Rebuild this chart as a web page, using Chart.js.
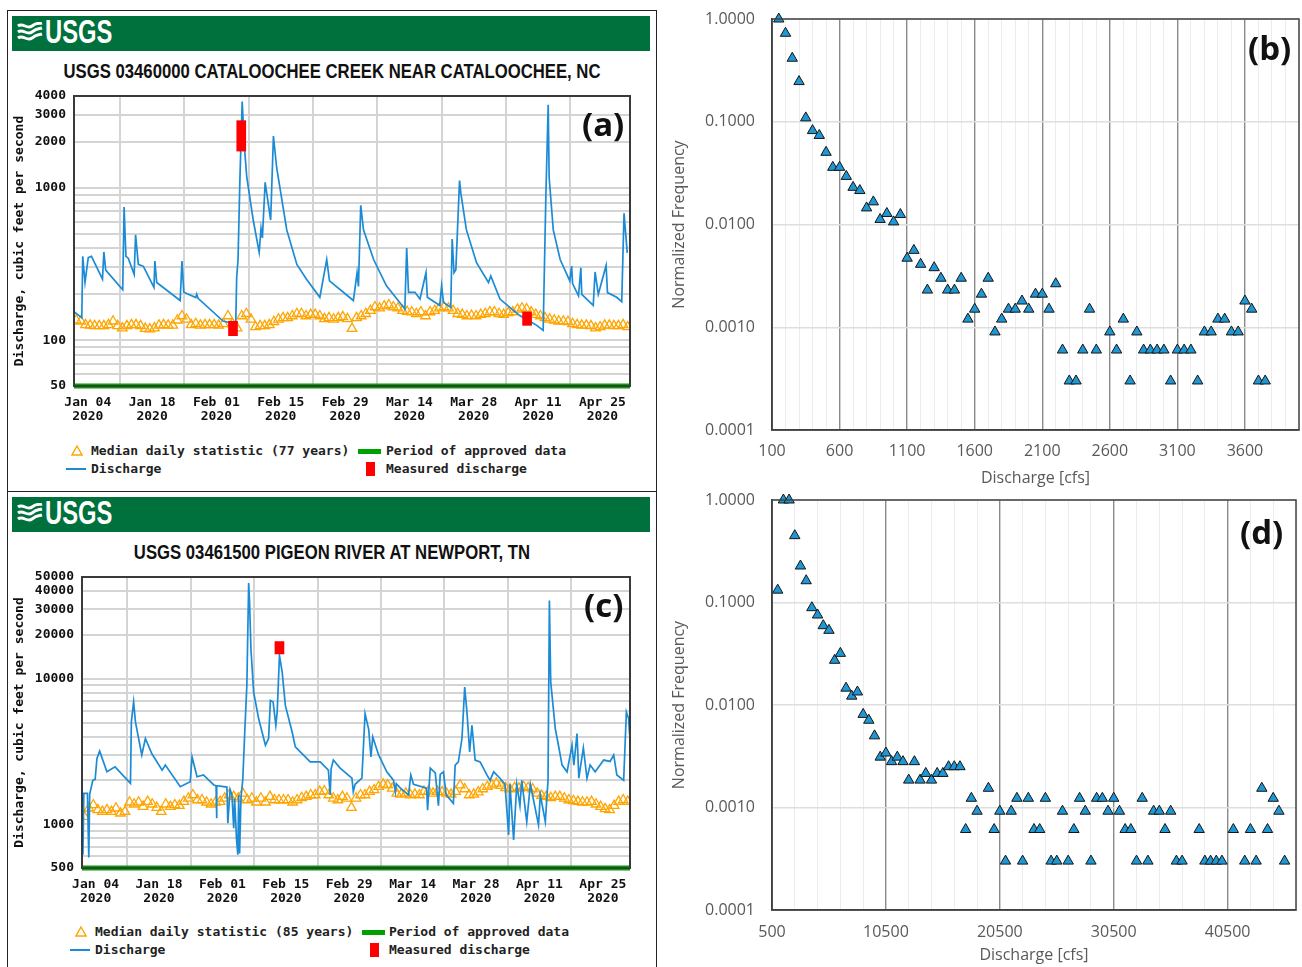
<!DOCTYPE html>
<html>
<head>
<meta charset="utf-8">
<script src="https://cdn.jsdelivr.net/npm/chart.js@4.4.1/dist/chart.umd.min.js"></script>
<style>
body{margin:0;background:#fff;}
#page{position:relative;width:1302px;height:967px;overflow:hidden;background:#fff;}
.frame{position:absolute;box-sizing:border-box;border:1px solid #222;}
.hdr{position:absolute;left:12px;width:638px;height:35px;background:#00703c;}
.usgs{position:absolute;left:33px;top:-3px;font:bold 33px "Liberation Sans Narrow","Liberation Sans",sans-serif;color:#fff;transform:scaleX(.72);transform-origin:left;}
.logo{position:absolute;left:5px;top:6px;}
.title{position:absolute;left:8px;width:648px;text-align:center;font:bold 20px "Liberation Sans Narrow","Liberation Sans",sans-serif;color:#111;line-height:24px;transform:scaleX(.835);transform-origin:center;}
.leg{position:absolute;font:bold 13px "DejaVu Sans Mono",monospace;color:#222;white-space:pre;line-height:16px;}
.sw{position:absolute;}
canvas{position:absolute;}
.tag{position:absolute;font:bold 33px "Open Sans",sans-serif;color:#111;line-height:40px;}
</style>
</head>
<body>
<div id="page">
  <div class="frame" style="left:7px;top:10px;width:650px;height:482px;"></div>
  <div class="frame" style="left:7px;top:491px;width:650px;height:490px;"></div>

  <div class="hdr" style="top:16px;">
    <svg class="logo" width="26" height="22" viewBox="0 0 26 22"><path d="M1 4 C6 0 10 8 15 4 S22 2 25 1 M1 10 C6 6 10 14 15 10 S22 7 25 6 M1 16 C6 12 10 20 15 16 S22 13 25 12" stroke="#fff" stroke-width="3" fill="none"/></svg>
    <div class="usgs">USGS</div>
  </div>
  <div class="title" style="top:59px;">USGS 03460000 CATALOOCHEE CREEK NEAR CATALOOCHEE, NC</div>
  <canvas id="chartA" width="640" height="345" style="left:8px;top:85px;"></canvas>
  <div class="tag" style="left:582px;top:104px;">(a)</div>

  <svg class="sw" style="left:71px;top:445px;" width="12" height="11"><polygon points="6,1 11,10 1,10" fill="none" stroke="#ffa500" stroke-width="1.4"/></svg>
  <div class="leg" style="left:91px;top:443px;">Median daily statistic (77 years)</div>
  <div class="sw" style="left:358px;top:449px;width:23px;height:5px;background:#00a000;"></div>
  <div class="leg" style="left:386px;top:443px;">Period of approved data</div>
  <div class="sw" style="left:66px;top:468px;width:20px;height:2px;background:#1b8bd6;"></div>
  <div class="leg" style="left:91px;top:461px;">Discharge</div>
  <div class="sw" style="left:366px;top:462px;width:9px;height:14px;background:#ff0000;"></div>
  <div class="leg" style="left:386px;top:461px;">Measured discharge</div>

  <div class="hdr" style="top:497px;">
    <svg class="logo" width="26" height="22" viewBox="0 0 26 22"><path d="M1 4 C6 0 10 8 15 4 S22 2 25 1 M1 10 C6 6 10 14 15 10 S22 7 25 6 M1 16 C6 12 10 20 15 16 S22 13 25 12" stroke="#fff" stroke-width="3" fill="none"/></svg>
    <div class="usgs">USGS</div>
  </div>
  <div class="title" style="top:540px;">USGS 03461500 PIGEON RIVER AT NEWPORT, TN</div>
  <canvas id="chartC" width="640" height="345" style="left:8px;top:566px;"></canvas>
  <div class="tag" style="left:584px;top:585px;">(c)</div>

  <svg class="sw" style="left:75px;top:926px;" width="12" height="11"><polygon points="6,1 11,10 1,10" fill="none" stroke="#ffa500" stroke-width="1.4"/></svg>
  <div class="leg" style="left:95px;top:924px;">Median daily statistic (85 years)</div>
  <div class="sw" style="left:362px;top:930px;width:23px;height:5px;background:#00a000;"></div>
  <div class="leg" style="left:389px;top:924px;">Period of approved data</div>
  <div class="sw" style="left:70px;top:949px;width:20px;height:2px;background:#1b8bd6;"></div>
  <div class="leg" style="left:95px;top:942px;">Discharge</div>
  <div class="sw" style="left:370px;top:943px;width:9px;height:14px;background:#ff0000;"></div>
  <div class="leg" style="left:389px;top:942px;">Measured discharge</div>

  <canvas id="chartB" width="642" height="490" style="left:660px;top:0px;"></canvas>
  <div class="tag" style="left:1248px;top:28px;">(b)</div>
  <canvas id="chartD" width="642" height="487" style="left:660px;top:480px;"></canvas>
  <div class="tag" style="left:1240px;top:512px;">(d)</div>
</div>

<script>
// x axis of the hydrographs is days since Jan 01 2020
var tickDays = [3, 17, 31, 45, 59, 73, 87, 101, 115];
var tickNames = ['Jan 04', 'Jan 18', 'Feb 01', 'Feb 15', 'Feb 29', 'Mar 14', 'Mar 28', 'Apr 11', 'Apr 25'];

// (a) Cataloochee Creek
var aGrid = [50, 60, 70, 80, 90, 100, 200, 300, 400, 500, 600, 700, 800, 900, 1000, 2000, 3000, 4000];
var aLabels = [50, 100, 1000, 2000, 3000, 4000];
var aFlow = [[0,154],[1.7,140],[1.9,355],[2.4,239],[3.1,348],[3.8,355],[6.2,251],[6.5,379],[6.9,288],
  [10.6,214],[10.9,748],[11.3,355],[11.8,345],[13.1,270],[13.4,491],[14.0,314],[15.1,305],[17.4,222],
  [17.6,330],[18.0,239],[23.1,182],[23.5,330],[23.9,206],[26.5,190],[26.7,200],[27,188],[32.5,133],
  [35.2,128],[35.4,257],[35.7,338],[36.1,1114],[36.6,3673],[37.1,1832],[37.6,1172],[39.0,614],[40.3,377],
  [40.7,542],[41.0,468],[41.6,1086],[42.8,614],[43.4,2183],[44.1,1358],[46.3,529],[48.5,314],[50.6,251],
  [53.5,191],[55.0,338],[55.6,245],[60.8,182],[61.6,277],[61.9,225],[62.4,767],[63.0,529],[65.2,338],
  [68.0,227],[72.0,160],[72.4,402],[72.8,206],[74.2,206],[75.3,186],[76.6,277],[76.9,191],[79.6,169],
  [80.0,227],[80.4,177],[82.0,164],[82.3,460],[82.7,277],[83.1,290],[83.9,1114],[84.2,914],[85.4,529],
  [87.6,322],[90.2,239],[90.7,264],[92.7,186],[97.0,145],[100.7,125],[102.1,116],[102.7,914],[103.2,3500],
  [103.4,1172],[104.3,529],[105.8,338],[107.9,245],[108.3,306],[108.5,235],[109.8,195],[110.3,298],
  [110.5,200],[113.0,169],[113.4,280],[114.1,200],[115.8,309],[116.1,205],[118.1,191],[119.2,179],
  [119.7,679],[120.4,374]];
var aMedian = [135,133,126,125,124,124,124,126,133,124,
  120,124,126,126,124,119,118,120,125,126,
  125,125,135,144,137,126,128,125,126,126,
  126,125,128,144,128,120,144,149,137,122,
  124,124,126,132,137,140,140,144,149,149,
  144,147,147,144,138,140,137,140,142,138,
  119,140,144,149,156,165,162,167,170,165,
  162,156,154,153,149,153,144,153,156,162,
  165,162,156,149,147,144,145,144,147,149,
  153,153,149,147,151,153,159,162,160,153,
  147,144,140,137,135,133,133,132,128,126,
  125,125,124,120,122,125,125,124,124,126,
  122];
var aMeasured = [[34.6, 107, 133], [36.4, 1740, 2755], [98.6, 125, 153]];

// (c) Pigeon River
var cGrid = [500, 600, 700, 800, 900, 1000, 2000, 3000, 4000, 5000, 6000, 7000, 8000, 9000, 10000, 20000, 30000, 40000, 50000];
var cLabels = [500, 1000, 10000, 20000, 30000, 40000, 50000];
var cFlow = [[0,1630],[0.2,617],[0.4,1630],[1.2,1630],[1.5,590],[1.7,1610],[2.4,2010],[2.9,2030],[3.3,2830],
  [3.9,3180],[5.5,2290],[7.3,2480],[10.7,1910],[10.9,5050],[11.4,6920],[11.8,5050],[13.2,2990],[14.0,3880],
  [15.4,3060],[17.7,2350],[18.4,2550],[21.7,1810],[23.9,1960],[24.3,2900],[25.4,2120],[26.8,2180],
  [29.1,1860],[29.6,1840],[29.7,1100],[29.8,1840],[32.0,1800],[32.2,1015],[32.7,1730],[33.1,1588],
  [33.5,939],[33.7,1507],[34.1,802],[34.4,617],[34.6,1588],[34.8,630],[35.1,1507],[35.5,2030],[36.0,4790],
  [36.4,9000],[36.8,45500],[37.0,33600],[37.3,16000],[37.9,8090],[39.0,5320],[40.5,3490],[41.2,3880],
  [41.6,7100],[42.2,6920],[42.8,4790],[43.1,5900],[43.6,14450],[44.2,11100],[44.9,6560],[46.4,4300],
  [47.1,3400],[48.2,3140],[50.4,2680],[52.6,2680],[54.4,2350],[54.8,1590],[55.0,2400],[55.5,2760],
  [57.0,2430],[59.6,2070],[59.9,1670],[60.3,1880],[61.8,2070],[62.5,5750],[63.3,4490],[63.8,2900],
  [64.2,3980],[65.5,2990],[67.3,2290],[68.8,2000],[69.2,1670],[69.4,1900],[70.3,1770],[72.1,1590],
  [72.6,2180],[73.2,1880],[76.1,1770],[76.3,1250],[76.9,2430],[78.0,2250],[78.7,1340],[79.1,2200],
  [79.8,2290],[80.4,1590],[82.0,1390],[82.4,2550],[83.1,2680],[83.9,3880],[84.5,8750],[85.0,5900],
  [85.6,3140],[86.1,4790],[86.8,2760],[87.9,2680],[89.4,2180],[90.1,2000],[90.9,2290],[92.3,2070],
  [93.4,1880],[94.2,845],[94.5,1880],[95.3,780],[96.0,1880],[96.7,1340],[97.1,2000],[98.2,1040],
  [99.0,1880],[100.8,990],[101.2,1590],[102.3,1040],[102.9,2000],[103.2,34400],[103.5,9480],[104.5,4540],
  [105.2,3490],[106.0,2550],[107.1,2290],[108.2,3490],[108.6,2550],[109.3,4200],[109.7,2070],[110.7,3350],
  [111.5,2070],[112.2,2550],[113.3,2290],[115.2,2760],[116.6,2700],[117.4,2990],[118.1,2180],[119.6,2000],
  [120.2,5900],[120.7,5320],[120.9,4140]];
var cMedian = [1127,1287,1356,1253,1220,1253,1220,1287,1189,1220,
  1415,1371,1415,1320,1429,1371,1299,1220,1371,1320,
  1356,1342,1429,1507,1588,1467,1467,1415,1371,1415,
  1429,1507,1588,1546,1507,1630,1467,1507,1415,1507,
  1415,1546,1467,1467,1467,1467,1415,1467,1520,1546,
  1588,1588,1675,1690,1588,1507,1467,1546,1507,1299,
  1507,1588,1588,1675,1720,1810,1880,1858,1764,1630,
  1605,1630,1588,1605,1588,1675,1690,1630,1675,1660,
  1630,1605,1675,1858,1745,1588,1605,1660,1745,1810,
  1858,1910,1840,1780,1745,1780,1764,1810,1780,1745,
  1630,1570,1546,1520,1546,1546,1507,1467,1445,1429,
  1415,1415,1429,1371,1320,1275,1253,1342,1429,1467,
  1429];
var cMeasured = [[43.6, 14800, 18000]];

// (b) frequency of Cataloochee discharge
var bTicks = [100, 600, 1100, 1600, 2100, 2600, 3100, 3600];
var bCfs = [150,200,250,300,350,400,450,500,550,600,650,700,750,800,850,900,950,1000,1050,1100,
  1150,1200,1250,1300,1350,1400,1450,1500,1550,1600,1650,1700,1750,1800,1850,1900,1950,2000,2050,2100,
  2150,2200,2250,2300,2350,2400,2450,2500,2600,2650,2700,2750,2800,2850,2900,2950,3000,3050,3100,3150,
  3200,3250,3300,3350,3400,3450,3500,3550,3600,3650,3700,3750];
var bFreq = [1.0,0.726,0.415,0.246,0.109,0.082,0.0736,0.0504,0.036,0.036,0.0294,0.023,0.0214,0.0145,0.0166,
  0.0112,0.0128,0.0106,0.0125,0.0047,0.0056,0.0041,0.0023,0.0038,0.0030,0.0023,0.0023,0.0030,0.0012,0.0015,
  0.0021,0.0030,0.0009,0.0012,0.0015,0.0015,0.0018,0.0015,0.0021,0.0021,0.0015,0.00265,0.0006,0.0003,0.0003,
  0.0006,0.0015,0.0006,0.0009,0.0006,0.0012,0.0003,0.0009,0.0006,0.0006,0.0006,0.0006,0.0003,0.0006,0.0006,
  0.0006,0.0003,0.0009,0.0009,0.0012,0.0012,0.0009,0.0009,0.0018,0.0015,0.0003,0.0003];

// (d) frequency of Pigeon River discharge
var dTicks = [500, 10500, 20500, 30500, 40500];
var dCfs = [1000,1500,2000,2500,3000,3500,4000,4500,5000,5500,6000,6500,7000,7500,8000,8500,9000,9500,
  10000,10500,11000,11500,12000,12500,13000,13500,14000,14500,15000,15500,16000,16500,17000,17500,18000,
  18500,19500,20000,20500,21000,21500,22000,22500,23000,23500,24000,24500,25000,25500,26000,26500,27000,
  27500,28000,28500,29000,29500,30000,30500,31000,31500,32000,32500,33000,33500,34000,34500,35000,35500,
  36000,36500,38000,38500,39000,39500,40000,41000,42000,42500,43000,43500,44000,44500,45000,45500];
var dFreq = [0.132,1.0,1.0,0.449,0.227,0.163,0.089,0.0755,0.0594,0.0535,0.0273,0.0319,0.0146,0.0122,0.0134,
  0.0081,0.0071,0.0050,0.0031,0.0034,0.0028,0.0031,0.0028,0.00185,0.0028,0.00185,0.00215,0.00185,0.00215,
  0.00215,0.0025,0.0025,0.0025,0.00061,0.00123,0.00092,0.00154,0.00061,0.00092,0.0003,0.00092,0.00123,
  0.0003,0.00123,0.00061,0.00061,0.00123,0.0003,0.0003,0.00092,0.0003,0.00061,0.00123,0.00092,0.0003,
  0.00123,0.00123,0.00092,0.00123,0.00092,0.00061,0.00061,0.0003,0.00123,0.0003,0.00092,0.00092,0.00061,
  0.00092,0.0003,0.0003,0.00061,0.0003,0.0003,0.0003,0.0003,0.00061,0.0003,0.00061,0.0003,0.00154,0.00061,
  0.00123,0.00092,0.0003];

var monoFont = {family: 'DejaVu Sans Mono', size: 13, weight: 'bold', lineHeight: 1.1};
var excelFont = {family: 'Open Sans', size: 16};

function framePlugin(color, width) {
  return {
    id: 'frame',
    afterDraw: function(chart) {
      var a = chart.chartArea, ctx = chart.ctx;
      ctx.save();
      ctx.strokeStyle = color;
      ctx.lineWidth = width;
      ctx.strokeRect(a.left, a.top, a.right - a.left, a.bottom - a.top);
      ctx.restore();
    }
  };
}

// fixed axis sizes, no extra room for edge labels: layout padding alone places the plot
function fixX(h) {
  return function(s) { s.height = h; s.paddingLeft = 0; s.paddingRight = 0; };
}
function fixY(w) {
  return function(s) { s.width = w; s.paddingTop = 0; s.paddingBottom = 0; };
}

function usgsChart(id, flow, median, measured, grid, labels, yMin, yMax, yWidth, xHeight) {
  new Chart(document.getElementById(id), {
    type: 'line',
    data: {
      datasets: [{
        // period of approved data
        data: [{x: 0, y: yMin}, {x: 121, y: yMin}],
        borderColor: '#00a000',
        borderWidth: 5,
        pointRadius: 0,
        clip: false,
        order: 0
      }, {
        type: 'bar',
        data: measured.map(function(m) { return {x: m[0], y: [m[1], m[2]]}; }),
        backgroundColor: '#ff0000',
        barThickness: 9,
        order: 0
      }, {
        data: flow.map(function(p) { return {x: p[0], y: p[1]}; }),
        borderColor: '#1b8bd6',
        borderWidth: 1.7,
        pointRadius: 0,
        order: 1
      }, {
        data: median.map(function(v, i) { return {x: i + 0.5, y: v}; }),
        showLine: false,
        pointStyle: 'triangle',
        pointRadius: 5.5,
        borderColor: '#ffa500',
        backgroundColor: 'rgba(255,255,255,0)',
        borderWidth: 1.3,
        order: 2
      }]
    },
    options: {
      responsive: false,
      animation: false,
      devicePixelRatio: 1,
      layout: {autoPadding: false, padding: {top: 11, right: 18, left: 0, bottom: 0}},
      plugins: {legend: {display: false}, tooltip: {enabled: false}},
      scales: {
        x: {
          type: 'linear', min: 0, max: 121, offset: false,
          afterBuildTicks: function(s) { s.ticks = tickDays.map(function(v) { return {value: v}; }); },
          afterFit: fixX(xHeight),
          ticks: {
            autoSkip: false, maxRotation: 0, padding: 9, color: '#111', font: monoFont,
            callback: function(v) { return [tickNames[tickDays.indexOf(v)], '2020']; }
          },
          grid: {color: '#d4d4d4', lineWidth: 2, drawTicks: false},
          border: {display: false}
        },
        y: {
          type: 'logarithmic', min: yMin, max: yMax,
          afterBuildTicks: function(s) { s.ticks = grid.map(function(v) { return {value: v}; }); },
          afterFit: fixY(yWidth),
          ticks: {
            autoSkip: false, padding: 8, color: '#111', font: monoFont,
            callback: function(v) { return labels.indexOf(v) >= 0 ? String(v) : ''; }
          },
          grid: {color: '#d4d4d4', lineWidth: 2, drawTicks: false},
          border: {display: false},
          title: {display: true, text: 'Discharge, cubic feet per second', color: '#111', font: monoFont, padding: {top: 4, bottom: 0}}
        }
      }
    },
    plugins: [framePlugin('#3a3a3a', 2)]
  });
}

function freqChart(id, xs, ys, xMin, xMax, minorStep, majors, padTop, padRight, xHeight, tickPad) {
  new Chart(document.getElementById(id), {
    type: 'scatter',
    data: {
      datasets: [{
        data: xs.map(function(x, i) { return {x: x, y: ys[i]}; }),
        pointStyle: 'triangle',
        pointRadius: 6,
        backgroundColor: '#1f97d4',
        borderColor: '#151515',
        borderWidth: 1,
        clip: false
      }]
    },
    options: {
      responsive: false,
      animation: false,
      devicePixelRatio: 1,
      layout: {autoPadding: false, padding: {top: padTop, right: padRight, left: 0, bottom: 0}},
      plugins: {legend: {display: false}, tooltip: {enabled: false}},
      scales: {
        x: {
          type: 'linear', min: xMin, max: xMax,
          afterBuildTicks: function(s) {
            var t = [];
            for (var v = xMin; v <= xMax; v += minorStep) t.push({value: v});
            s.ticks = t;
          },
          afterFit: fixX(xHeight),
          ticks: {
            autoSkip: false, maxRotation: 0, padding: tickPad, color: '#595959', font: excelFont,
            callback: function(v) { return majors.indexOf(v) >= 0 ? String(v) : ''; }
          },
          grid: {
            drawTicks: false,
            color: function(c) { return c.tick && majors.indexOf(c.tick.value) >= 0 ? '#8a8a8a' : '#ececec'; },
            lineWidth: function(c) { return c.tick && majors.indexOf(c.tick.value) >= 0 ? 1.4 : 1; }
          },
          border: {display: true, color: '#404040', width: 1.5},
          title: {display: true, text: 'Discharge [cfs]', color: '#595959', font: excelFont, padding: {top: 0, bottom: 2}}
        },
        y: {
          type: 'logarithmic', min: 0.0001, max: 1,
          afterBuildTicks: function(s) { s.ticks = [0.0001, 0.001, 0.01, 0.1, 1].map(function(v) { return {value: v}; }); },
          afterFit: fixY(112),
          ticks: {
            padding: 17, color: '#595959', font: excelFont,
            callback: function(v) { return Number(v).toFixed(4); }
          },
          grid: {color: '#dedede', lineWidth: 1.5, drawTicks: false},
          border: {display: true, color: '#404040', width: 1.5},
          title: {display: true, text: 'Normalized Frequency', color: '#595959', font: excelFont, padding: {top: 10, bottom: 0}}
        }
      }
    },
    plugins: [framePlugin('#404040', 1.5)]
  });
}

usgsChart('chartA', aFlow, aMedian, aMeasured, aGrid, aLabels, 50, 4000, 66, 44);
usgsChart('chartC', cFlow, cMedian, cMeasured, cGrid, cLabels, 500, 50000, 74, 43);
freqChart('chartB', bCfs, bFreq, 100, 4000, 100, bTicks, 19, 3, 60, 12);
freqChart('chartD', dCfs, dFreq, 500, 46500, 2000, dTicks, 20, 6, 57, 13);
</script>
</body>
</html>
